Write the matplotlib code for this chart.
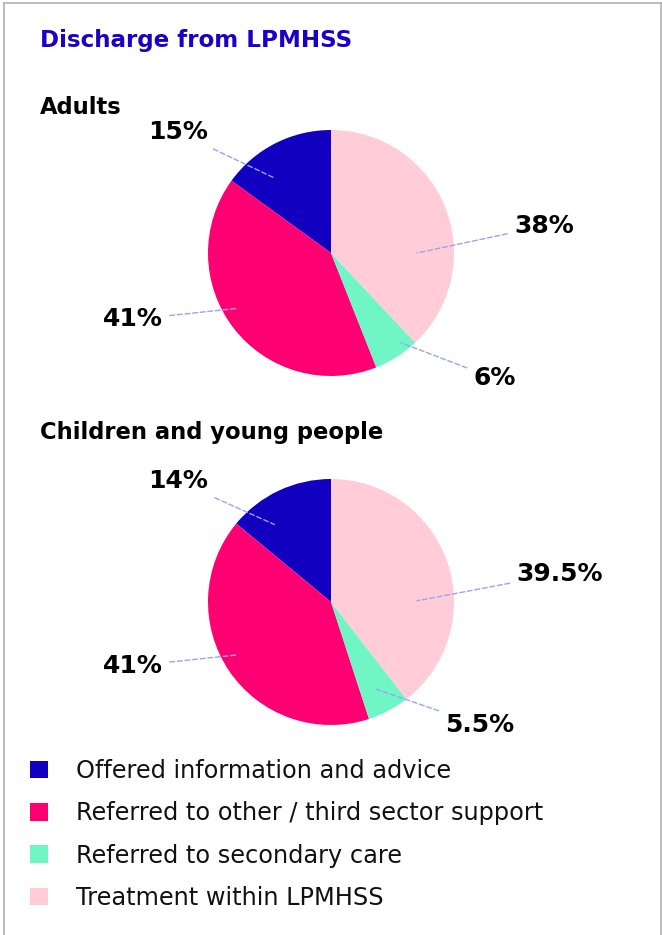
import matplotlib.pyplot as plt
from matplotlib.patches import Patch
from matplotlib.lines import Line2D

plt.rcParams['font.family'] = ['DejaVu Sans']

categories = ['Offered information and advice',
              'Referred to other / third sector support',
              'Referred to secondary care',
              'Treatment within LPMHSS']
colors = ['#1100c0', '#ff0072', '#6ff5c6', '#ffccd8']

adults = [15, 41, 6, 38]
adults_labels = ['15%', '41%', '6%', '38%']
children = [14, 41, 5.5, 39.5]
children_labels = ['14%', '41%', '5.5%', '39.5%']

# label placement (text position, leader anchor) in pie radius units
adults_layout = [((-1.24, 0.98), (-0.46, 0.61)), ((-1.61, -0.54), (-0.76, -0.45)),
                 ((1.33, -1.02), (0.57, -0.73)), ((1.73, 0.22), (0.70, 0.0))]
children_layout = [((-1.24, 0.98), (-0.46, 0.63)), ((-1.61, -0.52), (-0.76, -0.43)),
                   ((1.21, -1.0), (0.37, -0.71)), ((1.86, 0.23), (0.70, 0.01))]

W, H = 662, 935
R = 123.0
fig = plt.figure(figsize=(W / 100, H / 100), dpi=100)

# outer frame
fig.add_artist(Line2D([4 / W, 4 / W], [0, 1 - 3 / H], color='#b0b0b0', lw=1.2))
fig.add_artist(Line2D([4 / W, 661 / W], [1 - 3 / H, 1 - 3 / H], color='#b0b0b0', lw=1.2))
fig.add_artist(Line2D([661 / W, 661 / W], [0, 1 - 3 / H], color='#b0b0b0', lw=1.2))

fig.text(40 / W, 1 - 40 / H, 'Discharge from LPMHSS', color='#1a00c8',
         fontsize=16.6, fontweight='bold', va='center', ha='left')


def draw_pie(cy, values, labels, layout, subtitle, sy):
    ax = fig.add_axes([0, 1 - (cy + 165) / H, 1, 330 / H])
    ax.pie(values, colors=colors, startangle=90, counterclock=True, radius=1,
           wedgeprops=dict(linewidth=0))
    ax.set_xlim(-331 / R, 331 / R)
    ax.set_ylim(-165 / R, 165 / R)
    ax.axis('off')
    for lab, (txy, axy) in zip(labels, layout):
        ax.annotate(lab, xy=axy, xytext=txy, ha='center', va='center',
                    fontsize=18, fontweight='bold', color='black',
                    arrowprops=dict(arrowstyle='-', linestyle=(0, (3.5, 2)), color='#9aa2f6',
                                    lw=1.0, shrinkA=3, shrinkB=0))
    fig.text(40 / W, 1 - sy / H, subtitle, fontsize=16.3, fontweight='bold',
             va='center', ha='left')


draw_pie(253, adults, adults_labels, adults_layout, 'Adults', 107)
draw_pie(602, children, children_labels, children_layout, 'Children and young people', 433)

handles = [Patch(facecolor=c, edgecolor='none') for c in colors]
fig.legend(handles, categories, loc='upper left', bbox_to_anchor=(30 / W, 1 - 759 / H),
           frameon=False, fontsize=17.3, handlelength=0.75, handleheight=0.75,
           handletextpad=1.15, labelspacing=0.76, borderpad=0, borderaxespad=0,
           labelcolor='#111111')

fig.savefig('out.png', dpi=100, facecolor='white')
